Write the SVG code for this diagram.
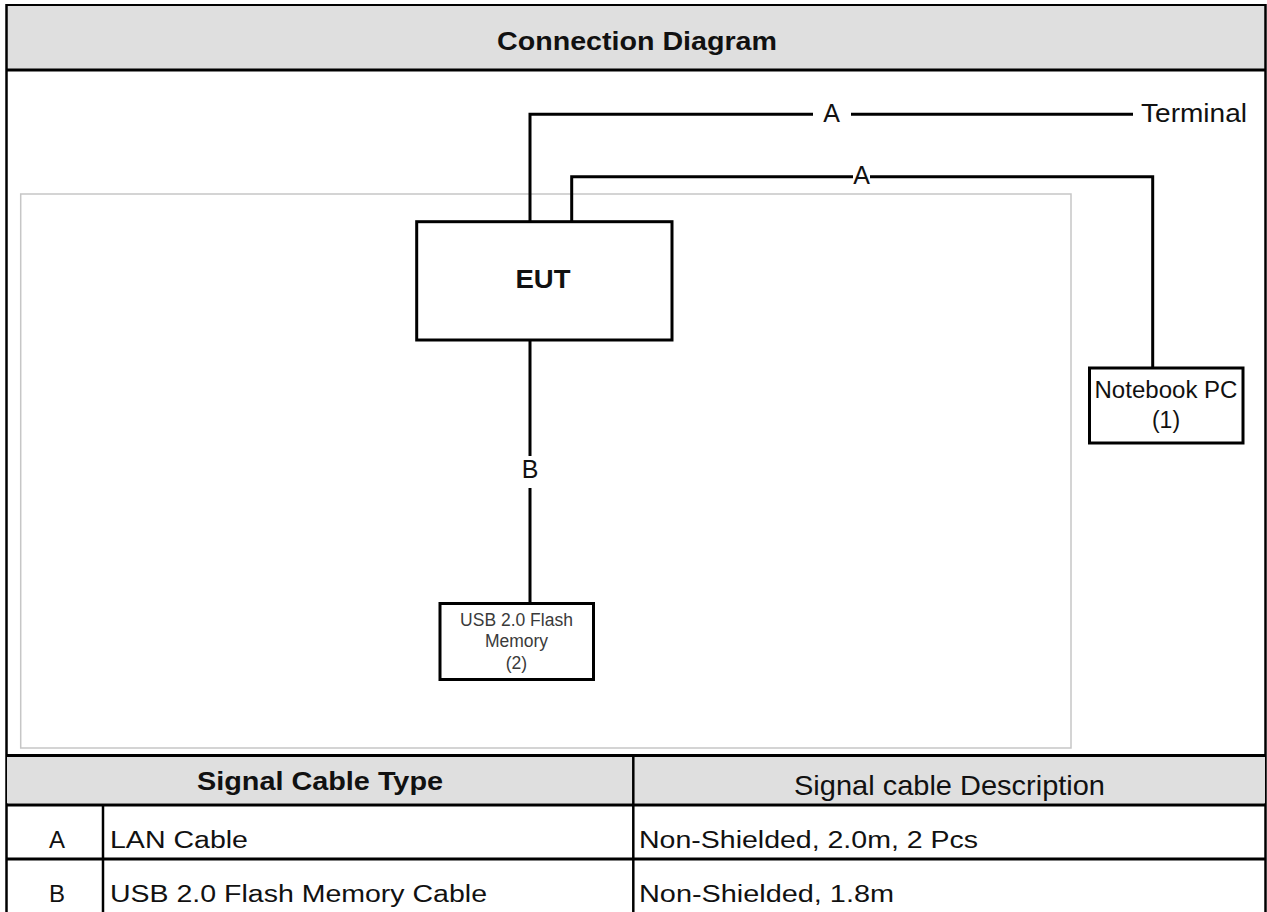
<svg xmlns="http://www.w3.org/2000/svg" width="1267" height="912" viewBox="0 0 1267 912">
<style>
  .t { font-family: "Liberation Sans", Arial, sans-serif; fill: #111; }
  .b { font-weight: bold; }
  .ln { stroke: #000; stroke-width: 3; fill: none; }
  .box { stroke: #000; stroke-width: 3; fill: #fff; }
  .frame { stroke: #000; fill: none; }
  .hdr { fill: #dfdfdf; }
  .usb { fill: #3a3a3a; }
</style>
<rect x="0" y="0" width="1267" height="912" fill="#fff"/>
<g id="frame">
  <rect class="hdr" x="7" y="5" width="1258" height="64"/>
  <line class="frame" x1="6" y1="5" x2="1266" y2="5" stroke-width="2"/>
  <line class="frame" x1="6.5" y1="4" x2="6.5" y2="912" stroke-width="2.5"/>
  <line class="frame" x1="1265.5" y1="4" x2="1265.5" y2="912" stroke-width="2.5"/>
  <line class="frame" x1="6" y1="70" x2="1266" y2="70" stroke-width="3"/>
  <text class="t b" x="637" y="50" font-size="25" text-anchor="middle" textLength="280" lengthAdjust="spacingAndGlyphs">Connection Diagram</text>
  <rect x="20.7" y="194" width="1050.3" height="554" fill="none" stroke="#c6c6c6" stroke-width="1.5"/>
</g>
<g id="connectors">
  <path class="ln" d="M530,221.7 V114.3 H813 M851,114.3 H1133"/>
  <path class="ln" d="M571.7,221.7 V176.7 H853 M870,176.7 H1152.7 V367"/>
  <path class="ln" d="M530,340 V456 M530,488 V603"/>
  <text class="t" x="831.5" y="122" font-size="25" text-anchor="middle">A</text>
  <text class="t" x="861.5" y="183.5" font-size="25" text-anchor="middle">A</text>
  <text class="t" x="530" y="478" font-size="25" text-anchor="middle">B</text>
</g>
<g id="eut">
  <rect class="box" x="416.7" y="221.7" width="255.3" height="118.3"/>
  <text class="t b" x="543" y="288" font-size="25.5" text-anchor="middle" textLength="55" lengthAdjust="spacingAndGlyphs">EUT</text>
</g>
<g id="terminal">
  <text class="t" x="1141" y="122" font-size="26" textLength="106" lengthAdjust="spacingAndGlyphs">Terminal</text>
</g>
<g id="notebook">
  <rect class="box" x="1089.5" y="368" width="153.5" height="75"/>
  <text class="t" x="1166" y="398" font-size="23" text-anchor="middle" textLength="143" lengthAdjust="spacingAndGlyphs">Notebook PC</text>
  <text class="t" x="1166" y="428" font-size="23" text-anchor="middle">(1)</text>
</g>
<g id="usb">
  <rect class="box" x="440" y="603.5" width="153.5" height="76"/>
  <text class="t usb" x="516.5" y="625.7" font-size="17.5" text-anchor="middle">USB 2.0 Flash</text>
  <text class="t usb" x="516.5" y="646.7" font-size="17.5" text-anchor="middle">Memory</text>
  <text class="t usb" x="516.5" y="669.3" font-size="17.5" text-anchor="middle">(2)</text>
</g>
<g id="table">
  <rect class="hdr" x="7" y="757" width="1258" height="46.5"/>
  <line class="frame" x1="6" y1="755.5" x2="1266" y2="755.5" stroke-width="3"/>
  <line class="frame" x1="6" y1="805" x2="1266" y2="805" stroke-width="3"/>
  <line class="frame" x1="6" y1="859" x2="1266" y2="859" stroke-width="3"/>
  <line class="frame" x1="103" y1="805" x2="103" y2="912" stroke-width="2.5"/>
  <line class="frame" x1="633.3" y1="755" x2="633.3" y2="912" stroke-width="2.5"/>
  <text class="t b" x="320" y="790" font-size="26" text-anchor="middle" textLength="246" lengthAdjust="spacingAndGlyphs">Signal Cable Type</text>
  <text class="t" x="949.5" y="795" font-size="28" text-anchor="middle" textLength="311" lengthAdjust="spacingAndGlyphs">Signal cable Description</text>
  <text class="t" x="57" y="848" font-size="24" text-anchor="middle">A</text>
  <text class="t" x="110" y="848" font-size="23.5" textLength="138" lengthAdjust="spacingAndGlyphs">LAN Cable</text>
  <text class="t" x="639" y="848" font-size="23.5" textLength="339" lengthAdjust="spacingAndGlyphs">Non-Shielded, 2.0m, 2 Pcs</text>
  <text class="t" x="57" y="902" font-size="24" text-anchor="middle">B</text>
  <text class="t" x="110" y="902" font-size="23.5" textLength="377" lengthAdjust="spacingAndGlyphs">USB 2.0 Flash Memory Cable</text>
  <text class="t" x="639" y="902" font-size="23.5" textLength="255" lengthAdjust="spacingAndGlyphs">Non-Shielded, 1.8m</text>
</g>
</svg>
